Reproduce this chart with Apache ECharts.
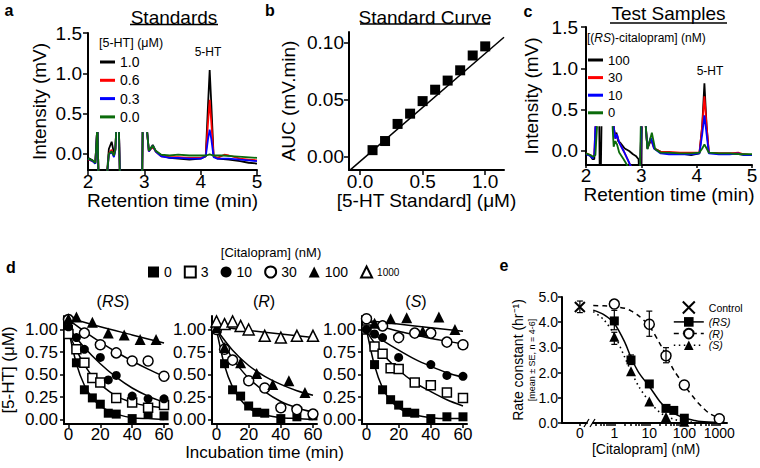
<!DOCTYPE html>
<html><head><meta charset="utf-8">
<script src="https://cdn.jsdelivr.net/npm/echarts@6/dist/echarts.min.js"></script>
<style>html,body{margin:0;padding:0;background:#fff}#chart{width:760px;height:468px}</style>
</head><body><div id="chart"></div>
<script>
const FONT = "'Liberation Sans', Arial, Helvetica, sans-serif";

// ---------- Panel a : chromatograms of standards ([5-HT] uM) ----------
const aLevels = ['1.0', '0.6', '0.3', '0.0'];
const aBlack = [[2.00,-0.05],[2.08,-0.08],[2.13,-0.12],[2.16,0.27],[2.165,'-'],[2.17,0.27],[2.19,-0.4],[2.25,'-'],[2.32,-0.4],[2.37,0.06],[2.42,0.15],[2.46,0.01],[2.485,0.06],[2.5,0.27],[2.52,'-'],[2.55,0.27],[2.57,-0.4],[2.7,'-'],[2.96,-0.4],[2.97,0.27],[3.0,'-'],[3.05,0.27],[3.08,0.04],[3.15,0.11],[3.2,0.04],[3.3,-0.02],[3.45,-0.05],[3.6,-0.06],[3.8,-0.07],[4.0,-0.06],[4.09,-0.03],[4.13,0.6],[4.16,1.04],[4.19,0.6],[4.23,-0.03],[4.3,-0.06],[4.5,-0.07],[4.7,-0.09],[4.85,-0.11],[5.0,-0.12]];
const aRed = [[2.00,-0.07],[2.08,-0.09],[2.13,-0.11],[2.16,0.27],[2.165,'-'],[2.17,0.27],[2.19,-0.4],[2.25,'-'],[2.32,-0.4],[2.37,0.0],[2.42,0.05],[2.46,-0.03],[2.485,0.05],[2.5,0.27],[2.52,'-'],[2.55,0.27],[2.57,-0.4],[2.7,'-'],[2.96,-0.4],[2.97,0.27],[3.0,'-'],[3.05,0.27],[3.08,0.03],[3.15,0.09],[3.2,0.03],[3.3,-0.03],[3.45,-0.04],[3.6,-0.04],[3.8,-0.05],[4.0,-0.05],[4.09,-0.03],[4.13,0.38],[4.16,0.67],[4.19,0.38],[4.23,-0.03],[4.3,-0.05],[4.42,-0.01],[4.5,-0.02],[4.7,-0.06],[4.85,-0.07],[5.0,-0.08]];
const aBlue = [[2.00,-0.06],[2.08,-0.09],[2.13,-0.12],[2.16,0.27],[2.165,'-'],[2.17,0.27],[2.19,-0.4],[2.25,'-'],[2.32,-0.4],[2.37,-0.01],[2.42,0.03],[2.46,-0.04],[2.485,0.04],[2.5,0.27],[2.52,'-'],[2.55,0.27],[2.57,-0.4],[2.7,'-'],[2.96,-0.4],[2.97,0.27],[3.0,'-'],[3.05,0.27],[3.08,0.03],[3.15,0.1],[3.2,0.03],[3.3,-0.03],[3.45,-0.05],[3.6,-0.05],[3.8,-0.06],[4.0,-0.06],[4.09,-0.03],[4.13,0.18],[4.16,0.30],[4.19,0.18],[4.23,-0.04],[4.3,-0.06],[4.5,-0.06],[4.7,-0.07],[4.85,-0.08],[5.0,-0.09]];
const aGreen = [[2.00,-0.06],[2.08,-0.08],[2.13,-0.11],[2.16,0.27],[2.165,'-'],[2.17,0.27],[2.19,-0.4],[2.25,'-'],[2.32,-0.4],[2.37,0.0],[2.42,0.03],[2.46,-0.02],[2.485,0.05],[2.5,0.27],[2.52,'-'],[2.55,0.27],[2.57,-0.4],[2.7,'-'],[2.96,-0.4],[2.97,0.27],[3.0,'-'],[3.05,0.27],[3.08,0.04],[3.15,0.1],[3.2,0.04],[3.3,-0.01],[3.45,-0.02],[3.6,-0.01],[3.8,-0.02],[4.0,-0.02],[4.1,-0.02],[4.16,-0.005],[4.22,-0.02],[4.4,-0.02],[4.6,-0.03],[4.8,-0.04],[5.0,-0.05]];
const aXTicks = [2, 3, 4, 5];
const aYTicks = [0, 0.5, 1.0, 1.5];

// ---------- Panel b : standard curve ----------
const bConc = [0.1, 0.2, 0.3, 0.4, 0.5, 0.6, 0.7, 0.8, 0.9, 1.0];
const bAUC  = [0.006, 0.014, 0.029, 0.038, 0.049, 0.059, 0.067, 0.076, 0.089, 0.097];
const bFitX = [-0.08, 1.15];
const bFitY = [-0.0115, 0.105];
const bXTicks = [0, 0.5, 1.0];
const bYTicks = [0, 0.05, 0.10];

// ---------- Panel c : test samples ([(RS)-citalopram] nM) ----------
const cLevels = ['100', '30', '10', '0'];
const cBlack = [[2.0,-0.03],[2.08,-0.06],[2.12,-0.1],[2.15,-0.1],[2.18,0.3],[2.2,'-'],[2.24,0.3],[2.25,-0.4],[2.255,'-'],[2.265,-0.4],[2.28,0.3],[2.4,'-'],[2.5,0.3],[2.52,0.19],[2.55,0.22],[2.58,0.12],[2.62,0.1],[2.7,0.03],[2.78,0.0],[2.85,-0.04],[2.9,-0.06],[2.95,-0.1],[2.97,-0.4],[2.98,'-'],[3.0,-0.4],[3.01,0.3],[3.05,'-'],[3.08,0.3],[3.11,0.03],[3.18,0.14],[3.24,0.03],[3.35,-0.01],[3.5,-0.02],[3.7,-0.03],[3.9,-0.05],[4.05,-0.03],[4.1,0.3],[4.14,0.82],[4.18,0.3],[4.22,-0.02],[4.4,-0.03],[4.6,-0.03],[4.8,-0.04],[5.0,-0.05]];
const cRed = [[2.0,-0.03],[2.08,-0.05],[2.12,-0.08],[2.15,-0.05],[2.17,0.3],[2.2,'-'],[2.5,0.3],[2.53,0.15],[2.56,0.2],[2.6,0.1],[2.68,0.0],[2.75,-0.1],[2.82,-0.2],[2.86,-0.4],[2.9,'-'],[2.97,-0.4],[3.0,0.3],[3.05,'-'],[3.08,0.3],[3.11,0.03],[3.17,0.15],[3.23,0.03],[3.35,-0.01],[3.5,-0.01],[3.7,-0.02],[3.9,-0.02],[4.05,-0.02],[4.1,0.3],[4.14,0.66],[4.18,0.3],[4.22,-0.02],[4.4,-0.03],[4.6,-0.03],[4.75,-0.02],[4.85,-0.04],[5.0,-0.05]];
const cBlue = [[2.0,-0.04],[2.08,-0.06],[2.12,-0.09],[2.15,-0.05],[2.17,0.3],[2.2,'-'],[2.5,0.3],[2.53,0.15],[2.56,0.2],[2.6,0.1],[2.68,0.0],[2.75,-0.1],[2.82,-0.2],[2.86,-0.4],[2.9,'-'],[2.97,-0.4],[3.0,0.3],[3.05,'-'],[3.08,0.3],[3.11,0.03],[3.17,0.16],[3.23,0.03],[3.35,-0.03],[3.5,-0.04],[3.7,-0.04],[3.9,-0.04],[4.05,-0.03],[4.1,0.2],[4.14,0.43],[4.18,0.2],[4.22,-0.03],[4.4,-0.04],[4.6,-0.04],[4.75,-0.03],[4.85,-0.05],[5.0,-0.05]];
const cGreen = [[2.0,-0.03],[2.08,-0.05],[2.13,-0.07],[2.17,-0.05],[2.2,0.3],[2.25,'-'],[2.48,0.3],[2.5,0.05],[2.53,0.12],[2.56,0.08],[2.6,-0.02],[2.68,-0.1],[2.75,-0.18],[2.78,-0.4],[2.85,'-'],[2.97,-0.4],[2.99,0.3],[3.05,'-'],[3.08,0.3],[3.11,0.02],[3.19,0.22],[3.25,0.02],[3.35,-0.02],[3.5,-0.02],[3.7,-0.03],[3.9,-0.03],[4.05,-0.02],[4.1,0.03],[4.14,0.08],[4.18,0.03],[4.22,-0.02],[4.4,-0.03],[4.6,-0.03],[4.8,-0.04],[5.0,-0.04]];
const cXTicks = [2, 3, 4, 5];
const cYTicks = [0, 0.5, 1.0, 1.5];

// ---------- Panel d : [5-HT] (uM) vs incubation time (min) ----------
const dConcs = ['0', '3', '10', '30', '100', '1000'];
const dXTicks = [0, 20, 40, 60];
const dYTicks = [0, 0.25, 0.5, 0.75, 1.0];
// (RS)
const dRS0   = [[0,1.0],[5,0.63],[10,0.33],[15,0.24],[20,0.17],[25,0.07],[30,0.06],[40,0.01],[50,0.06],[60,0.04]];
const dRS3   = [[0,0.95],[5,0.78],[10,0.63],[15,0.46],[20,0.41],[30,0.24],[40,0.19],[50,0.13],[60,0.16]];
const dRS10  = [[0,1.03],[5,0.91],[10,0.78],[20,0.69],[25,0.44],[30,0.49],[40,0.26],[50,0.23],[60,0.23]];
const dRS30  = [[0,1.11],[10,0.96],[20,0.83],[30,0.74],[40,0.65],[50,0.65],[60,0.48]];
const dRS100 = [[0,1.12],[5,1.14],[15,1.08],[25,0.96],[35,0.94],[45,0.89],[55,0.89]];
const fRS0   = [[0,1.0],[5,0.62],[10,0.38],[15,0.24],[20,0.15],[25,0.1],[30,0.06],[40,0.02],[50,0.01],[60,0.0]];
const fRS3   = [[0,0.97],[5,0.77],[10,0.61],[15,0.48],[20,0.39],[30,0.26],[40,0.19],[50,0.15],[60,0.13]];
const fRS10  = [[0,1.02],[10,0.8],[20,0.62],[30,0.47],[40,0.35],[50,0.26],[60,0.19]];
const fRS30  = [[0,1.11],[10,0.98],[20,0.86],[30,0.75],[40,0.65],[50,0.56],[60,0.48]];
const fRS100 = [[0,1.13],[20,1.03],[40,0.94],[60,0.85]];
// (R)
const dR0    = [[0,1.0],[5,0.62],[10,0.33],[15,0.26],[20,0.15],[25,0.08],[30,0.07],[40,0.01],[50,0.03],[60,0.04]];
const dR30   = [[0,1.0],[5,0.78],[10,0.66],[20,0.43],[30,0.35],[40,0.13],[50,0.11],[60,0.06]];
const dR100  = [[0,1.02],[5,0.8],[15,0.63],[25,0.51],[35,0.39],[45,0.43],[55,0.3]];
const dR1000 = [[0,1.09],[5,1.06],[10,1.09],[15,1.04],[20,1.0],[30,0.93],[40,0.91],[50,0.93],[60,0.93]];
const fR0    = [[0,1.0],[5,0.6],[10,0.36],[15,0.22],[20,0.13],[25,0.08],[30,0.05],[40,0.02],[50,0.01],[60,0.0]];
const fR30   = [[0,1.0],[5,0.82],[10,0.68],[15,0.56],[20,0.46],[30,0.31],[40,0.2],[50,0.13],[60,0.08]];
const fR100  = [[0,1.0],[10,0.77],[20,0.6],[30,0.48],[40,0.39],[50,0.32],[60,0.27]];
const fR1000 = [[0,1.03],[20,0.99],[40,0.95],[60,0.91]];
// (S)
const dS0    = [[0,1.0],[5,0.61],[10,0.33],[15,0.22],[20,0.16],[25,0.08],[30,0.07],[40,0.01],[50,0.03],[60,0.03]];
const dS3    = [[0,1.0],[5,0.81],[10,0.73],[15,0.57],[20,0.56],[30,0.41],[40,0.38],[50,0.3],[60,0.24]];
const dS10   = [[0,1.0],[5,0.95],[10,0.91],[20,0.69],[40,0.61],[50,0.49],[60,0.48]];
const dS30   = [[0,1.12],[10,1.04],[20,0.91],[30,0.96],[40,0.96],[50,0.86],[60,0.83]];
const dS100  = [[5,1.07],[15,1.12],[25,1.13],[35,0.98],[45,1.14],[55,1.0]];
const fS0    = [[0,1.0],[5,0.6],[10,0.35],[15,0.21],[20,0.13],[25,0.08],[30,0.05],[40,0.02],[50,0.01],[60,0.01]];
const fS3    = [[0,0.98],[10,0.73],[20,0.55],[30,0.41],[40,0.31],[50,0.22],[60,0.15]];
const fS10   = [[0,1.0],[10,0.88],[20,0.77],[30,0.67],[40,0.59],[50,0.52],[60,0.47]];
const fS30   = [[0,1.1],[10,1.03],[20,0.98],[30,0.94],[40,0.9],[50,0.87],[60,0.84]];
const fS100  = [[0,1.1],[30,1.04],[60,0.98]];

// ---------- Panel e : rate constant vs [citalopram] ----------
const eControl = [[0, 4.6]];
const eControlErr = [[0, 4.38, 4.84]];
const eRS = [[1,4.05],[3,2.5],[10,1.55],[30,0.58],[50,0.5],[100,0.19]];
const eR  = [[1,4.72],[10,3.92],[30,2.67],[100,1.51],[1000,0.17]];
const eS  = [[1,3.42],[3,2.05],[10,0.85],[30,0.24],[100,0.05]];
const eErr = [[1,3.7,4.47],[1,3.12,3.6],[10,3.44,4.44],[30,2.39,2.99],[3,2.32,2.7]];
const fRSe = [[0.25,4.48],[0.5,4.3],[1,3.95],[2,3.2],[3,2.6],[5,2.0],[10,1.45],[20,0.85],[30,0.6],[50,0.38],[100,0.2],[200,0.1],[300,0.06],[1000,0.02]];
const fRe  = [[0.25,4.66],[0.5,4.65],[1,4.62],[2,4.55],[3,4.45],[5,4.25],[10,3.85],[20,3.15],[30,2.7],[50,2.1],[100,1.5],[200,0.95],[300,0.68],[500,0.4],[1000,0.18]];
const fSe  = [[0.25,4.42],[0.5,4.1],[1,3.5],[2,2.6],[3,2.05],[5,1.45],[10,0.85],[20,0.42],[30,0.28],[50,0.15],[100,0.06],[300,0.01]];
const eLogLabels = [1, 10, 100, 1000];
const eLogTicks = [0.3,0.4,0.5,0.6,0.7,0.8,0.9,1,2,3,4,5,6,7,8,9,10,20,30,40,50,60,70,80,90,100,200,300,400,500,600,700,800,900,1000];
const eYTicks = [0, 1, 2, 3, 4, 5];

// ---------------- build option ----------------
function mkAxis(p) {
  return {
    type: p.type || 'value', gridIndex: p.g, min: p.min, max: p.max, show: p.show !== false,
    logBase: 10,
    splitLine: {show: false}, minorTick: {show: false}, minorSplitLine: {show: false},
    axisLine: {show: true, onZero: false, lineStyle: {color: '#000', width: 2}},
    axisTick: {show: true, inside: false, length: p.tl || 5, lineStyle: {color: '#000', width: 1.5}, customValues: p.ticks},
    axisLabel: {show: true, color: '#000', fontFamily: FONT, fontSize: p.fs || 19, margin: (p.margin === undefined ? 4 : p.margin),
      customValues: p.labels || p.ticks, formatter: p.fmt},
    name: p.name || '', nameLocation: 'middle', nameGap: p.nameGap || 20, nameMoveOverlap: false,
    nameTextStyle: p.nameStyle || {color: '#000', fontFamily: FONT, fontSize: p.nfs || p.fs || 19}
  };
}
const f1 = v => Number(v).toFixed(1), f2 = v => Number(v).toFixed(2), f0 = v => String(v);

const grids = [
  {left: 88, top: 33, width: 169, height: 137},   // a
  {left: 349, top: 32, width: 155, height: 138},  // b
  {left: 586, top: 27, width: 166, height: 138},  // c
  {left: 64, top: 316, width: 104, height: 108},  // d RS
  {left: 212, top: 316, width: 105, height: 108}, // d R
  {left: 362, top: 316, width: 105, height: 108}, // d S
  {left: 562, top: 297, width: 25, height: 126},  // e zero
  {left: 593, top: 297, width: 134, height: 126}  // e log
].map(g => Object.assign({containLabel: false, outerBoundsMode: 'none'}, g));

const xAxes = [
  mkAxis({g: 0, min: 2, max: 5, ticks: aXTicks, fmt: f0, name: 'Retention time (min)', nameGap: 21, margin: 2}),
  mkAxis({g: 1, min: -0.088, max: 1.15, ticks: bXTicks, fmt: f1, name: '[5-HT Standard] (μM)', nameGap: 21, margin: 2}),
  mkAxis({g: 2, min: 2, max: 5, ticks: cXTicks, fmt: f0, name: 'Retention time (min)', nameGap: 20, margin: 1, tl: 3}),
  mkAxis({g: 3, min: -2.8, max: 62.5, ticks: dXTicks, fmt: f0, fs: 17, tl: 4, margin: 2}),
  mkAxis({g: 4, min: -2.8, max: 62.5, ticks: dXTicks, fmt: f0, fs: 17, tl: 4, margin: 2, name: 'Incubation time (min)', nameGap: 19.5, nfs: 17}),
  mkAxis({g: 5, min: -2.8, max: 62.5, ticks: dXTicks, fmt: f0, fs: 17, tl: 4, margin: 2}),
  mkAxis({g: 6, min: -2.5, max: 1, ticks: [0], fmt: f0, fs: 14, tl: 3, margin: 3}),
  mkAxis({g: 7, type: 'log', min: 0.246, max: 1660, ticks: eLogTicks, labels: eLogLabels, fmt: f0, fs: 14, tl: 3, margin: 3})
];
const yAxes = [
  mkAxis({g: 0, min: -0.2, max: 1.5, ticks: aYTicks, fmt: f1, name: 'Intensity (mV)', nameGap: 39, margin: 6}),
  mkAxis({g: 1, min: -0.0114, max: 0.1096, ticks: bYTicks, fmt: f2, name: 'AUC (mV.min)', nameGap: 51, margin: 5}),
  mkAxis({g: 2, min: -0.17, max: 1.5, ticks: cYTicks, fmt: f1, name: 'Intensity (mV)', nameGap: 45, margin: 8}),
  mkAxis({g: 3, min: -0.05, max: 1.15, ticks: dYTicks, fmt: f2, fs: 17, tl: 4, margin: 6, name: '[5-HT] (μM)', nameGap: 47, nfs: 17}),
  mkAxis({g: 4, min: -0.05, max: 1.15, ticks: dYTicks, fmt: f2, fs: 17, tl: 4, margin: 6}),
  mkAxis({g: 5, min: -0.05, max: 1.15, ticks: dYTicks, fmt: f2, fs: 17, tl: 4, margin: 6}),
  mkAxis({g: 6, min: 0, max: 5, ticks: eYTicks, fmt: f1, fs: 14, tl: 4, margin: 4,
    name: '{a|Rate constant (hr⁻¹)}\n{b|[mean ± SE, n = 4-6]}', nameGap: 25,
    nameStyle: {color: '#000', rich: {a: {fontFamily: FONT, fontSize: 14, color: '#000', lineHeight: 16}, b: {fontFamily: FONT, fontSize: 9, color: '#000', lineHeight: 11}}}}),
  mkAxis({g: 7, min: 0, max: 5, ticks: eYTicks, show: false})
];

const series = [];
function addLine(ax, data, color, width, extra) {
  series.push(Object.assign({type: 'line', xAxisIndex: ax, yAxisIndex: ax, data: data, symbol: 'none', showSymbol: false,
    lineStyle: {color: color, width: width}, itemStyle: {color: color}, clip: true, z: 2, silent: true, animation: false}, extra || {}));
}
function addScatter(ax, name, data, sym, size, open) {
  series.push({type: 'scatter', name: name, xAxisIndex: ax, yAxisIndex: ax, data: data, symbol: sym, symbolSize: size,
    itemStyle: open ? {color: '#fff', borderColor: '#000', borderWidth: 1.5, opacity: 1} : {color: '#000', borderColor: '#000', borderWidth: 0, opacity: 1},
    z: 3, silent: true, clip: false});
}
function addErr(ax, data) {
  series.push({type: 'custom', xAxisIndex: ax, yAxisIndex: ax, data: data, encode: {x: 0, y: [1, 2]}, z: 4, silent: true,
    renderItem: function (params, api) {
      const x = api.value(0), lo = api.value(1), hi = api.value(2);
      const p1 = api.coord([x, lo]), p2 = api.coord([x, hi]), w = 3;
      const st = {stroke: '#000', lineWidth: 1.2};
      return {type: 'group', children: [
        {type: 'line', shape: {x1: p1[0], y1: p1[1], x2: p2[0], y2: p2[1]}, style: st},
        {type: 'line', shape: {x1: p1[0] - w, y1: p1[1], x2: p1[0] + w, y2: p1[1]}, style: st},
        {type: 'line', shape: {x1: p2[0] - w, y1: p2[1], x2: p2[0] + w, y2: p2[1]}, style: st}
      ]};
    }});
}

// a
const traceColors = ['#000000', '#ff0000', '#0000ff', '#0b6b0b'];
[aBlack, aRed, aBlue, aGreen].forEach((d, i) => addLine(0, d, traceColors[i], 1.8, {name: 'a' + aLevels[i]}));
// b
addLine(1, bFitX.map((x, i) => [x, bFitY[i]]), '#000', 1.5);
addScatter(1, 'bpts', bConc.map((x, i) => [x, bAUC[i]]), 'rect', 10, false);
// c
[cBlack, cRed, cBlue, cGreen].forEach((d, i) => addLine(2, d, traceColors[i], 1.8, {name: 'c' + cLevels[i]}));
// d
const dStyle = {'0': ['rect', 9, false], '3': ['rect', 9, true], '10': ['circle', 9, false],
                '30': ['circle', 10, true], '100': ['triangle', 11, false], '1000': ['triangle', 11, true]};
const dPanels = [
  [3, [['0', dRS0, fRS0], ['3', dRS3, fRS3], ['10', dRS10, fRS10], ['30', dRS30, fRS30], ['100', dRS100, fRS100]]],
  [4, [['0', dR0, fR0], ['30', dR30, fR30], ['100', dR100, fR100], ['1000', dR1000, fR1000]]],
  [5, [['0', dS0, fS0], ['3', dS3, fS3], ['10', dS10, fS10], ['30', dS30, fS30], ['100', dS100, fS100]]]
];
dPanels.forEach(([ax, sets]) => sets.forEach(([c, pts, fit]) => addLine(ax, fit, '#000', 1.5, {smooth: 0.3})));
dPanels.forEach(([ax, sets]) => sets.forEach(([c, pts, fit]) => addScatter(ax, c, pts, dStyle[c][0], dStyle[c][1], dStyle[c][2])));
// e
addLine(7, fRSe, '#000', 1.5, {name: '(RS)', symbol: 'rect', smooth: 0.3});
addLine(7, fRe, '#000', 1.5, {name: '(R)', symbol: 'emptyCircle', smooth: 0.3, lineStyle: {color: '#000', width: 1.5, type: [5, 4]}});
addLine(7, fSe, '#000', 1.5, {name: '(S)', symbol: 'triangle', smooth: 0.3, lineStyle: {color: '#000', width: 1.6, type: [1.5, 3.5]}});
addErr(7, eErr);
addErr(6, eControlErr);
addScatter(7, 'eRSpts', eRS, 'rect', 9, false);
addScatter(7, 'eRpts', eR, 'circle', 10, true);
addScatter(7, 'eSpts', eS, 'triangle', 10, false);
series.push({type: 'scatter', name: 'Control', xAxisIndex: 6, yAxisIndex: 6, data: eControl,
  symbol: 'path://M0,0L10,10M10,0L0,10', symbolSize: 10,
  itemStyle: {color: 'none', borderColor: '#000', borderWidth: 2, opacity: 1}, z: 5, silent: true, clip: false});

const legendBase = {padding: 0, selectedMode: false, textStyle: {color: '#000', fontFamily: FONT}};
const legends = [
  Object.assign({}, legendBase, {data: aLevels.map(l => 'a' + l), orient: 'vertical', left: 100, top: 55, icon: 'rect',
    itemWidth: 15, itemHeight: 3, itemGap: 4.3, formatter: n => n.slice(1), textStyle: {color: '#000', fontFamily: FONT, fontSize: 14}}),
  Object.assign({}, legendBase, {data: cLevels.map(l => 'c' + l), orient: 'vertical', left: 588, top: 53.5, icon: 'rect',
    itemWidth: 15, itemHeight: 3, itemGap: 4.6, formatter: n => n.slice(1), textStyle: {color: '#000', fontFamily: FONT, fontSize: 13}}),
  Object.assign({}, legendBase, {data: dConcs.map(c => c === '1000' ? {name: c, textStyle: {fontSize: 10}} : c),
    orient: 'horizontal', left: 148, top: 265, itemWidth: 11, itemHeight: 11, itemGap: 12,
    textStyle: {color: '#000', fontFamily: FONT, fontSize: 14}}),
  Object.assign({}, legendBase, {orient: 'vertical', left: 673, top: 299, itemWidth: 30, itemHeight: 12, itemGap: 0.4,
    textStyle: {color: '#000', fontFamily: FONT, fontSize: 10.5},
    data: [
      {name: 'Control'},
      {name: '(RS)', textStyle: {fontStyle: 'italic'}, lineStyle: {color: '#000', width: 1.5, type: 'solid'}},
      {name: '(R)', textStyle: {fontStyle: 'italic'}, lineStyle: {color: '#000', width: 1.5, type: [5, 4]}},
      {name: '(S)', textStyle: {fontStyle: 'italic'}, lineStyle: {color: '#000', width: 1.6, type: [1.5, 3.5]}}
    ]})
];

function txt(x, y, text, size, o) {
  o = o || {};
  const st = {text: text, x: 0, y: 0, fill: '#000', fontFamily: FONT, fontSize: size,
    fontWeight: o.bold ? 'bold' : 'normal', fontStyle: o.italic ? 'italic' : 'normal',
    align: o.align || 'center', textAlign: o.align || 'center', verticalAlign: 'middle', textVerticalAlign: 'middle'};
  if (o.rich) st.rich = o.rich;
  return {type: 'text', x: x, y: y, silent: true, style: st, z: 10};
}
function seg(x1, y1, x2, y2, w) {
  return {type: 'line', silent: true, shape: {x1: x1, y1: y1, x2: x2, y2: y2}, style: {stroke: '#000', lineWidth: w || 1.2}, z: 10};
}
const it = s => ({fontFamily: FONT, fontSize: s, fontStyle: 'italic', fill: '#000', color: '#000'});
const graphics = [
  txt(9, 10, 'a', 16, {bold: true}), txt(270, 10, 'b', 16, {bold: true}), txt(528, 11, 'c', 16, {bold: true}),
  txt(11, 267, 'd', 16, {bold: true}), txt(504, 265, 'e', 16, {bold: true}),
  txt(174, 17, 'Standards', 19), seg(130, 24.5, 218, 24.5, 1.3),
  txt(425, 17, 'Standard Curve', 19), seg(360, 24, 490, 24, 1.3),
  txt(668.5, 13, 'Test Samples', 19), seg(610, 23, 727, 23, 1.3),
  txt(208, 52, '5-HT', 12), txt(710, 71, '5-HT', 12),
  txt(99, 43, '[5-HT] (μM)', 12.5, {align: 'left'}),
  txt(587, 38, '[({i|RS})-citalopram] (nM)', 12, {align: 'left', rich: {i: it(12)}}),
  txt(271, 252, '[Citalopram] (nM)', 13),
  txt(113, 301, '({i|RS})', 16, {rich: {i: it(16)}}),
  txt(264, 301, '({i|R})', 16, {rich: {i: it(16)}}),
  txt(416, 301, '({i|S})', 16, {rich: {i: it(16)}}),
  txt(646, 449, '[Citalopram] (nM)', 14),
  seg(584, 427, 589, 419, 1.3), seg(590, 427, 595, 419, 1.3)
];

const chart = echarts.init(document.getElementById('chart'), null, {renderer: 'svg'});
chart.setOption({
  animation: false,
  backgroundColor: '#fff',
  textStyle: {fontFamily: FONT},
  grid: grids, xAxis: xAxes, yAxis: yAxes, series: series, legend: legends, graphic: graphics
});
</script></body></html>
